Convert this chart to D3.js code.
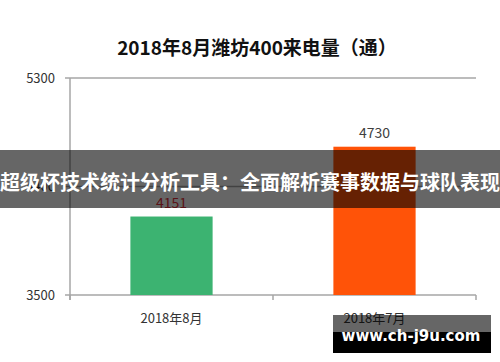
<!DOCTYPE html>
<html>
<head>
<meta charset="utf-8">
<script src="https://cdn.jsdelivr.net/npm/d3@7"></script>
<style>
  html, body { margin: 0; padding: 0; background: #fff; }
  svg { display: block; font-family: "Noto Sans CJK SC", "Noto Sans", sans-serif; }
</style>
</head>
<body>
<svg class="chart"></svg>
<script>
const months = ["2018年8月", "2018年7月"]
const calls = [4151, 4730]
const barColors = ["#3cb371", "#ff5308"]
const labelColors = ["#e0303a", "#404040"]
const yTicks = [3500, 4400, 5300]
const title = "2018年8月潍坊400来电量（通）"
const banner = "超级杯技术统计分析工具：全面解析赛事数据与球队表现"
const watermark = "www.ch-j9u.com"

let W = 500, H = 362,
    margin = {top: 78, right: 24, bottom: 67, left: 70},
    width = W - margin.left - margin.right,
    height = H - margin.top - margin.bottom

let svg = d3.select(".chart").attr("width", W).attr("height", H)

let x = d3.scaleBand().domain(months).range([0, width]).padding(0),
    y = d3.scaleLinear().domain([3500, 5300]).range([height, 0])

svg.append("text")
  .attr("x", 257).attr("y", 55)
  .attr("text-anchor", "middle")
  .attr("font-size", 19).attr("font-weight", "bold")
  .attr("fill", "#111")
  .text(title)

let g = svg.append("g").attr("transform", "translate(" + margin.left + "," + margin.top + ")")

// horizontal grid lines + y labels
g.selectAll(".grid").data(yTicks).enter().append("line")
  .attr("x1", -5).attr("x2", width)
  .attr("y1", d => y(d)).attr("y2", d => y(d))
  .attr("stroke", "#a6a6a6").attr("stroke-width", 1.5)
g.selectAll(".ylab").data(yTicks).enter().append("text")
  .attr("x", -15).attr("y", d => y(d))
  .attr("dy", "0.35em").attr("text-anchor", "end")
  .attr("font-size", 13).attr("fill", "#333")
  .text(d => d)

// y axis line
g.append("line").attr("x1", 0).attr("x2", 0).attr("y1", 0).attr("y2", height + 5)
  .attr("stroke", "#a6a6a6").attr("stroke-width", 1.5)

// x ticks at band edges
let edges = months.map(m => x(m)).concat([width])
g.selectAll(".xtick").data(edges).enter().append("line")
  .attr("x1", d => d).attr("x2", d => d)
  .attr("y1", height).attr("y2", height + 5)
  .attr("stroke", "#a6a6a6").attr("stroke-width", 1.5)

let bw = x.bandwidth() * 0.405
g.selectAll(".bar").data(calls).enter().append("rect")
  .attr("x", (d, i) => x(months[i]) + x.bandwidth() / 2 - bw / 2)
  .attr("width", bw)
  .attr("y", d => y(d))
  .attr("height", d => height - y(d))
  .attr("fill", (d, i) => barColors[i])

g.selectAll(".val").data(calls).enter().append("text")
  .attr("x", (d, i) => x(months[i]) + x.bandwidth() / 2)
  .attr("y", d => y(d) - 9)
  .attr("text-anchor", "middle")
  .attr("font-size", 14).attr("fill", (d, i) => labelColors[i])
  .text(d => d)

g.selectAll(".xlab").data(months).enter().append("text")
  .attr("x", d => x(d) + x.bandwidth() / 2)
  .attr("y", height + 23)
  .attr("dy", "0.35em").attr("text-anchor", "middle")
  .attr("font-size", 13).attr("fill", "#333")
  .text(d => d)

// overlay banner
svg.append("rect").attr("x", 0).attr("y", 150).attr("width", W).attr("height", 58)
  .attr("fill", "rgba(0,0,0,0.6)")
svg.append("text")
  .attr("x", 250).attr("y", 183)
  .attr("dy", "0.35em").attr("text-anchor", "middle")
  .attr("font-size", 20).attr("font-weight", "bold")
  .attr("fill", "#fff")
  .text(banner)

// watermark
svg.append("rect").attr("x", 333).attr("y", 315).attr("width", 158).attr("height", 17)
  .attr("fill", "rgba(0,0,0,0.6)")
svg.append("rect").attr("x", 333).attr("y", 332).attr("width", 158).attr("height", 21)
  .attr("fill", "#000")
svg.append("text")
  .attr("x", 411).attr("y", 341)
  .attr("text-anchor", "middle")
  .attr("font-family", "DejaVu Sans")
  .attr("font-size", 15).attr("font-weight", "bold")
  .attr("fill", "#fff")
  .text(watermark)
</script>
</body>
</html>
